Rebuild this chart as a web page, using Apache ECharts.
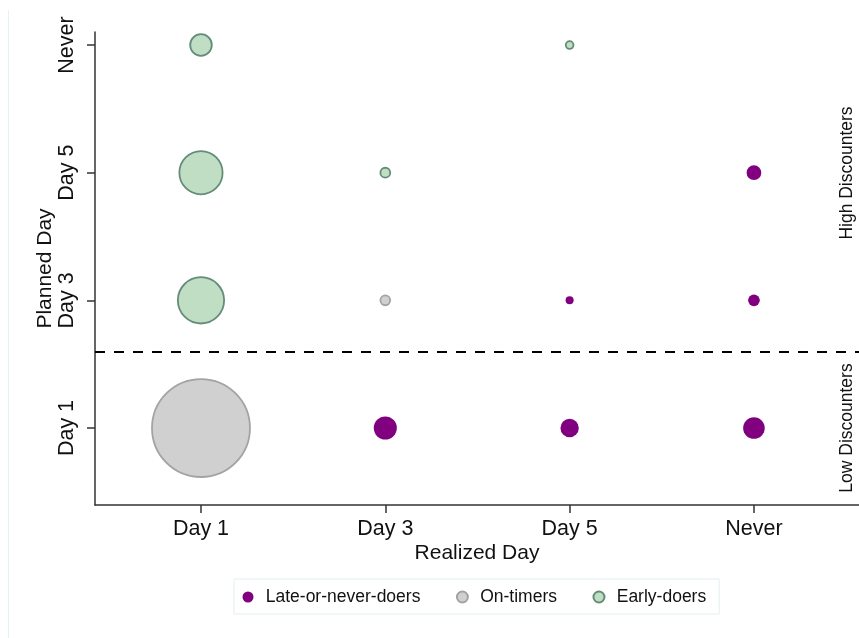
<!DOCTYPE html>
<html>
<head>
<meta charset="utf-8">
<script src="https://cdn.jsdelivr.net/npm/echarts@6/dist/echarts.min.js"></script>
<style>
html,body{margin:0;padding:0;background:#fff;}
#main{width:859px;height:638px;}
</style>
</head>
<body>
<div id="main"></div>
<script>
// Axis categories
const realizedDays = ['Day 1', 'Day 3', 'Day 5', 'Never'];
const plannedDays = ['Day 1', 'Day 3', 'Day 5', 'Never'];

// Late-or-never-doers (share of participants, %)
const lateRealized = ['Day 3', 'Day 5', 'Never', 'Day 5', 'Never', 'Never'];
const latePlanned  = ['Day 1', 'Day 1', 'Day 1', 'Day 3', 'Day 3', 'Day 5'];
const lateShare    = [3.3, 2.1, 2.9, 0.4, 0.85, 1.34];

// On-timers
const onRealized = ['Day 1', 'Day 3'];
const onPlanned  = ['Day 1', 'Day 3'];
const onShare    = [59.6, 0.6];

// Early-doers
const earlyRealized = ['Day 1', 'Day 1', 'Day 3', 'Day 1', 'Day 5'];
const earlyPlanned  = ['Day 3', 'Day 5', 'Day 5', 'Never', 'Never'];
const earlyShare    = [13.3, 11.6, 0.6, 2.9, 0.37];

const seriesNames = ['Late-or-never-doers', 'On-timers', 'Early-doers'];

function toPoints(rx, py, v) {
  return rx.map((r, i) => [realizedDays.indexOf(r), plannedDays.indexOf(py[i]), v[i]]);
}

const FONT = '"Liberation Sans", Arial, sans-serif';
const sizeFn = (d) => 12.69 * Math.sqrt(d[2]);

const chart = echarts.init(document.getElementById('main'), null, {renderer: 'canvas'});

const axisCommon = {
  type: 'value',
  splitLine: {show: false},
  axisLine: {show: true, onZero: false, lineStyle: {color: '#333', width: 1.5}},
  axisTick: {show: true, length: 8, lineStyle: {color: '#333', width: 1.5}, customValues: [0, 1, 2, 3]},
};

chart.setOption({
  animation: false,
  backgroundColor: '#ffffff',
  grid: {left: 95, right: 0, top: 32, bottom: 133, containLabel: false},
  xAxis: Object.assign({}, axisCommon, {
    min: -0.575, max: 3.57,
    name: 'Realized Day',
    nameLocation: 'middle',
    nameGap: 38,
    nameMoveOverlap: false,
    nameTextStyle: {fontFamily: FONT, fontSize: 21, color: '#111'},
    axisLabel: {
      customValues: [0, 1, 2, 3],
      formatter: (v) => realizedDays[Math.round(v)],
      fontFamily: FONT, fontSize: 21.5, color: '#111', margin: 13
    }
  }),
  yAxis: Object.assign({}, axisCommon, {
    min: -0.603, max: 3.102,
    name: 'Planned Day',
    nameLocation: 'middle',
    nameGap: 39,
    nameMoveOverlap: false,
    nameRotate: 90,
    nameTextStyle: {fontFamily: FONT, fontSize: 21, color: '#111', padding: [0, 0, 0, 0]},
    axisLabel: {
      customValues: [0, 1, 2, 3],
      rotate: 90,
      formatter: (v) => plannedDays[Math.round(v)],
      fontFamily: FONT, fontSize: 21.5, color: '#111', margin: 17
    }
  }),
  legend: {
    data: seriesNames,
    left: 234, top: 579,
    orient: 'horizontal',
    itemWidth: 25.5, itemHeight: 11, itemGap: 35.5,
    padding: [9, 13, 8, 8.5],
    borderColor: '#e3eef1', borderWidth: 1,
    backgroundColor: '#fff',
    icon: 'circle',
    textStyle: {fontFamily: FONT, fontSize: 17.5, color: '#111'}
  },
  series: [
    {
      name: seriesNames[0], type: 'scatter',
      data: toPoints(lateRealized, latePlanned, lateShare),
      symbol: 'circle', symbolSize: sizeFn,
      itemStyle: {color: '#800080', opacity: 1},
      markLine: {
        silent: true, symbol: 'none',
        label: {show: false},
        lineStyle: {color: '#000', width: 1.8, type: [10, 9]},
        data: [{yAxis: 0.6}]
      }
    },
    {
      name: seriesNames[1], type: 'scatter',
      data: toPoints(onRealized, onPlanned, onShare),
      symbol: 'circle', symbolSize: sizeFn,
      itemStyle: {color: '#d0d0d0', borderColor: '#a3a3a3', borderWidth: 1.8, opacity: 1}
    },
    {
      name: seriesNames[2], type: 'scatter',
      data: toPoints(earlyRealized, earlyPlanned, earlyShare),
      symbol: 'circle', symbolSize: sizeFn,
      itemStyle: {color: '#c0dec4', borderColor: '#648c78', borderWidth: 1.8, opacity: 1}
    }
  ],
  graphic: [
    {type: 'line', shape: {x1: 8.5, y1: 10, x2: 8.5, y2: 638}, style: {stroke: '#e8f1f3', lineWidth: 1}, silent: true},
    {type: 'text', x: 847, y: 173, rotation: Math.PI / 2,
     style: {text: 'High Discounters', fontFamily: FONT, fontSize: 17.5, fill: '#111', align: 'center', verticalAlign: 'middle'}},
    {type: 'text', x: 847, y: 428, rotation: Math.PI / 2,
     style: {text: 'Low Discounters', fontFamily: FONT, fontSize: 17.5, fill: '#111', align: 'center', verticalAlign: 'middle'}}
  ]
});
</script>
</body>
</html>
